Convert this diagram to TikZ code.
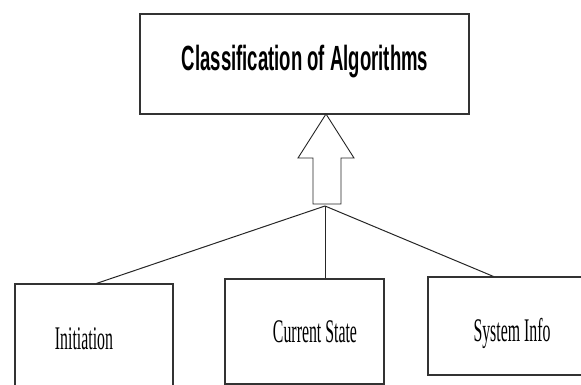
\documentclass[tikz,border=0pt]{standalone}
\usepackage{fontspec}
\setmainfont{Liberation Serif}
\newfontfamily\headfont{Liberation Sans}
\begin{document}
\begin{tikzpicture}[x=1pt,y=-1pt,
  box/.style={draw=black!80, line width=1.1pt, rectangle, inner sep=0pt, fill=none},
  conn/.style={draw=black!85, line width=1pt},
  blockarrow/.style={draw=black!85, line width=0.9pt, fill=white, line join=miter},
  lab/.style={anchor=base, inner sep=0pt, font=\fontsize{33}{33}\selectfont},
  headlab/.style={anchor=base, inner sep=0pt, font=\headfont\bfseries\fontsize{35}{35}\selectfont}]
\useasboundingbox (0,0) rectangle (581,385);
\clip (0,0) rectangle (581,385);
% boxes
\node[box, minimum width=329pt, minimum height=100pt] (top) at (304.5,64) {};
\node[box, minimum width=158pt, minimum height=120pt] (init) at (94,344) {};
\node[box, minimum width=159pt, minimum height=105pt] (cur) at (304.5,331.5) {};
\node[box, minimum width=160pt, minimum height=98pt] (sys) at (508,326) {};
% texts
\node[headlab] (toptxt) at (305,71) {\scalebox{0.53}[1]{Classification of Algorithms}};
\node[lab] (inittxt) at (84,349) {\scalebox{0.48}[1]{Initiation}};
\node[lab] (curtxt) at (315,342) {\scalebox{0.48}[1]{Current State}};
\node[lab] (systxt) at (512,341) {\scalebox{0.48}[1]{System Info}};
% junction and block arrow
\coordinate (j) at (325,206);
\coordinate (tip) at (326,114);
\draw[blockarrow] (tip) -- (354,158) -- (341,158) -- (341,204) -- (313,204) -- (313,158) -- (298,158) -- cycle;
% connectors
\draw[conn] (j) -- ([xshift=82pt]init.north west);
\draw[conn] (j) -- (cur.north -| j);
\draw[conn] (j) -- ([xshift=66pt]sys.north west);
\end{tikzpicture}
\end{document}
